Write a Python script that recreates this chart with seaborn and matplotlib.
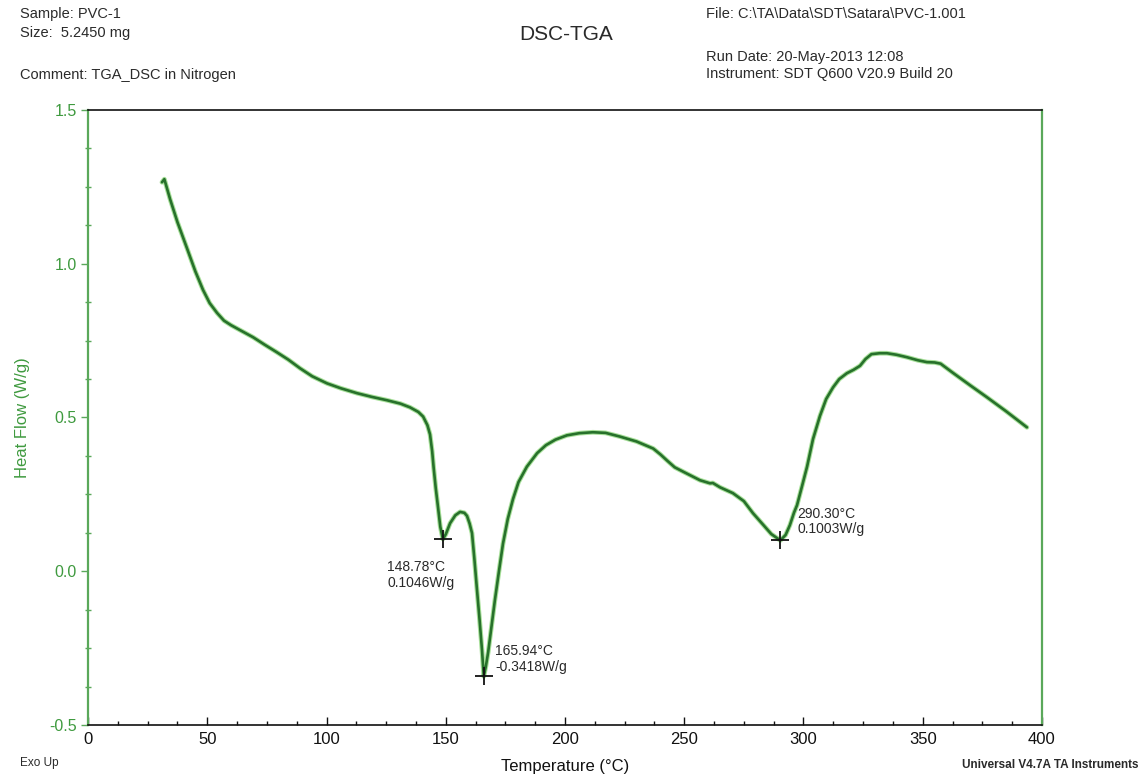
import matplotlib
matplotlib.use("Agg")
import matplotlib.pyplot as plt
from matplotlib.ticker import MultipleLocator
import seaborn as sns
import pandas as pd

# DSC heat-flow trace for the PVC-1 sample
temperature = [
    31.0, 32.0, 34.4, 37.5, 41.5, 45.0, 48.2, 51.0, 54.1, 57.0, 60.0, 64.0,
    69.2, 74.0, 79.2, 84.0, 88.9, 94.0, 100.2, 106.0, 112.8, 119.0, 125.4,
    131.0, 135.0, 138.5, 140.5, 142.3, 143.4, 144.3, 144.9, 145.8, 146.8,
    147.7, 148.78, 150.0, 151.8, 154.0, 156.0, 157.8, 158.9, 160.0, 161.0,
    162.0, 163.0, 164.2, 165.2, 165.94, 166.8, 167.8, 169.0, 170.6, 172.3,
    174.0, 176.0, 178.2, 180.5, 184.0, 188.3, 192.0, 196.0, 200.8, 206.0,
    211.7, 217.0, 223.0, 230.0, 237.0, 240.0, 242.8, 246.0, 250.0, 256.6,
    260.8, 262.0, 265.0, 270.4, 275.0, 278.8, 283.0, 286.5, 290.3, 292.5,
    294.3, 296.0, 297.3, 299.5, 301.5, 304.0, 306.9, 309.5, 312.4, 315.0,
    318.2, 321.0, 323.7, 326.0, 328.5, 332.0, 335.0, 339.0, 343.4, 348.0,
    351.8, 355.0, 357.5, 362.7, 370.0, 376.9, 385.0, 393.7,
]
heat_flow = [
    1.265, 1.275, 1.21, 1.135, 1.05, 0.975, 0.915, 0.872, 0.840, 0.815,
    0.800, 0.783, 0.761, 0.737, 0.712, 0.688, 0.660, 0.634, 0.611, 0.595,
    0.579, 0.567, 0.556, 0.545, 0.533, 0.518, 0.503, 0.475, 0.445, 0.39,
    0.338, 0.27, 0.205, 0.145, 0.1046, 0.12, 0.156, 0.182, 0.193, 0.19,
    0.180, 0.155, 0.124, 0.04, -0.052, -0.16, -0.257, -0.3418, -0.31,
    -0.262, -0.19, -0.094, 0.0, 0.09, 0.17, 0.235, 0.29, 0.34, 0.384, 0.41,
    0.428, 0.442, 0.449, 0.452, 0.450, 0.438, 0.422, 0.399, 0.38, 0.36,
    0.338, 0.322, 0.296, 0.286, 0.287, 0.273, 0.254, 0.228, 0.189, 0.152,
    0.121, 0.1003, 0.118, 0.15, 0.19, 0.215, 0.28, 0.34, 0.43, 0.505, 0.56,
    0.598, 0.625, 0.644, 0.655, 0.668, 0.69, 0.706, 0.709, 0.709, 0.704,
    0.696, 0.686, 0.68, 0.679, 0.675, 0.645, 0.604, 0.566, 0.52, 0.468,
]

# Peak minima picked by the analysis software
peak_temps = [148.78, 165.94, 290.30]
peak_flows = [0.1046, -0.3418, 0.1003]

x_ticks = [0, 50, 100, 150, 200, 250, 300, 350, 400]
y_ticks = [-0.5, 0.0, 0.5, 1.0, 1.5]

sns.set_style("ticks")
plt.rcParams["font.family"] = ["Liberation Sans", "DejaVu Sans"]

LINE = "#27712b"
AXIS_GREEN = "#5aa85a"
LABEL_GREEN = "#3f9a3f"
TEXT = "#2a2a2a"

fig = plt.figure(figsize=(11.42, 7.80), dpi=100)
ax = fig.add_axes([0.0771, 0.0705, 0.8353, 0.7885])

df = pd.DataFrame({"Temperature": temperature, "Heat Flow": heat_flow})
# soft halo under the trace, then the trace itself
sns.lineplot(data=df, x="Temperature", y="Heat Flow", ax=ax, color="#a8e09a",
             linewidth=3.4, sort=False, estimator=None)
sns.lineplot(data=df, x="Temperature", y="Heat Flow", ax=ax, color=LINE,
             linewidth=1.9, sort=False, estimator=None)

ax.scatter(peak_temps, peak_flows, marker="+", s=160, color="#111111",
           linewidths=1.3, zorder=5)

label_offsets = [(-40, -15, "left", "top"), (8, 2, "left", "bottom"),
                 (12, 3, "left", "bottom")]
for t, f, (dx, dy, ha, va) in zip(peak_temps, peak_flows, label_offsets):
    ax.annotate(f"{t:.2f}°C\n{f:.4f}W/g", (t, f), xytext=(dx, dy),
                textcoords="offset points", ha=ha, va=va, fontsize=10,
                color=TEXT, linespacing=1.15)

ax.set_xlim(0, 400)
ax.set_ylim(-0.5, 1.5)
ax.set_xticks(x_ticks)
ax.set_yticks(y_ticks)
ax.set_yticklabels([f"{v:.1f}" for v in y_ticks])
ax.xaxis.set_minor_locator(MultipleLocator(12.5))
ax.yaxis.set_minor_locator(MultipleLocator(0.125))

ax.tick_params(axis="x", which="major", direction="in", length=6, width=1.0,
               labelsize=12, colors="#111111", pad=5)
ax.tick_params(axis="x", which="minor", direction="in", length=3, width=1.0,
               colors="#111111")
ax.tick_params(axis="y", which="major", direction="out", length=5, width=1.0,
               labelsize=11.5, colors=AXIS_GREEN, labelcolor=LABEL_GREEN, pad=3)
ax.tick_params(axis="y", which="minor", direction="inout", length=5, width=1.0,
               colors=AXIS_GREEN)

for side in ("left", "right"):
    ax.spines[side].set_color(AXIS_GREEN)
    ax.spines[side].set_linewidth(1.6)
for side in ("top", "bottom"):
    ax.spines[side].set_color("#111111")
    ax.spines[side].set_linewidth(1.2)
    ax.spines[side].set_visible(True)

ax.set_xlabel("Temperature (°C)", fontsize=12, color="#111111", labelpad=9)
ax.set_ylabel("Heat Flow (W/g)", fontsize=12, color=LABEL_GREEN, labelpad=14)

# Report header
fig.text(20 / 1142, 1 - 14 / 780, "Sample: PVC-1", fontsize=10.5, color=TEXT,
         va="center")
fig.text(20 / 1142, 1 - 33 / 780, "Size:  5.2450 mg", fontsize=10.5,
         color=TEXT, va="center")
fig.text(20 / 1142, 1 - 75 / 780, "Comment: TGA_DSC in Nitrogen",
         fontsize=10.5, color=TEXT, va="center")
fig.text(566 / 1142, 1 - 35 / 780, "DSC-TGA", fontsize=15, color=TEXT,
         ha="center", va="center")
fig.text(706 / 1142, 1 - 14 / 780, r"File: C:\TA\Data\SDT\Satara\PVC-1.001",
         fontsize=10.5, color=TEXT, va="center")
fig.text(706 / 1142, 1 - 57 / 780, "Run Date: 20-May-2013 12:08",
         fontsize=10.5, color=TEXT, va="center")
fig.text(706 / 1142, 1 - 74 / 780, "Instrument: SDT Q600 V20.9 Build 20",
         fontsize=10.5, color=TEXT, va="center")

# Footer
fig.text(20 / 1142, 1 - 763 / 780, "Exo Up", fontsize=8.5, color=TEXT,
         va="center")
fig.text(1138 / 1142, 1 - 765 / 780, "Universal V4.7A TA Instruments",
         fontsize=8.5, color=TEXT, ha="right", va="center", fontweight="bold")

fig.savefig("out.png", dpi=100, facecolor="white")
